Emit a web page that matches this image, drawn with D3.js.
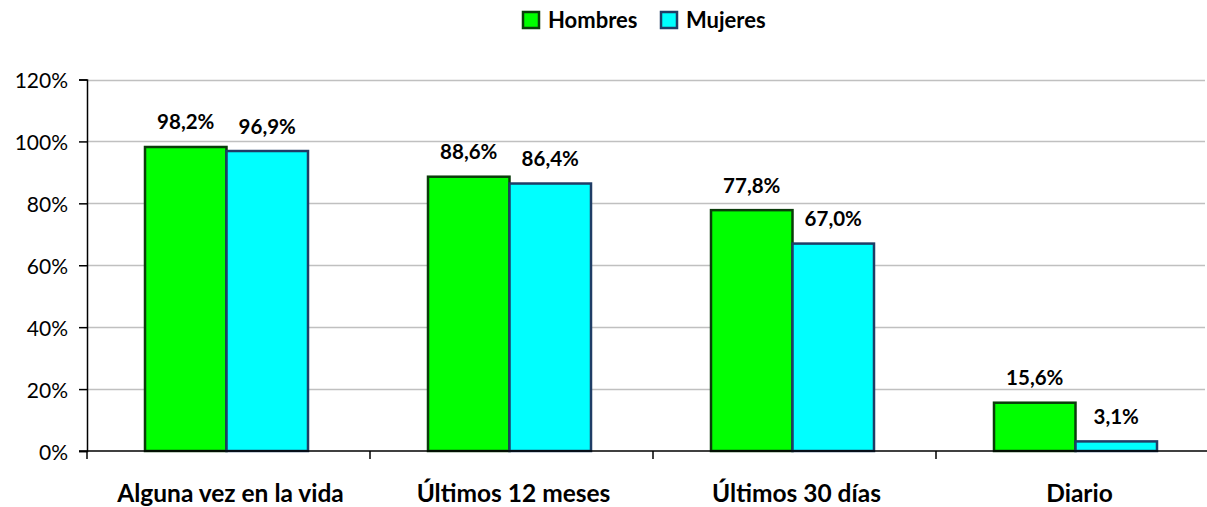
<!DOCTYPE html>
<html lang="es">
<head>
<meta charset="UTF-8">
<title>Consumo por sexo</title>
<script src="https://cdn.jsdelivr.net/npm/d3@7"></script>
<style>
  body { margin: 0; background: #fff; }
  text { font-family: Lato, "Open Sans", sans-serif; fill: #000; }
</style>
</head>
<body>
<script>
// datos
var categorias = ["Alguna vez en la vida", "Últimos 12 meses", "Últimos 30 días", "Diario"];
var series = ["Hombres", "Mujeres"];
var hombres = [98.2, 88.6, 77.8, 15.6];
var mujeres = [96.9, 86.4, 67.0, 3.1];
var ticksY = [0, 20, 40, 60, 80, 100, 120];

var colores = { Hombres: "#00ff00", Mujeres: "#00ffff" };
var bordes = { Hombres: "#0a3d0a", Mujeres: "#1f3d66" };

var width = 1207, height = 507;
var mLeft = 87, mTop = 79.5, mBottom = 451, bandW = 283;

var svg = d3.select("body").append("svg")
  .attr("width", width)
  .attr("height", height);

var x = d3.scaleBand()
  .domain(categorias)
  .range([mLeft, mLeft + bandW * categorias.length])
  .paddingInner(0)
  .paddingOuter(0);

var x1 = d3.scaleBand()
  .domain(series)
  .range([58, 58 + 163]);

var y = d3.scaleLinear().domain([0, 120]).range([mBottom, mTop]);

// lineas de cuadricula
svg.append("g").selectAll("line")
  .data(ticksY.filter(function(d){ return d > 0; }))
  .enter().append("line")
  .attr("x1", mLeft).attr("x2", 1205)
  .attr("y1", function(d){ return Math.round(y(d)) + 0.5; })
  .attr("y2", function(d){ return Math.round(y(d)) + 0.5; })
  .attr("stroke", "#c0c0c0")
  .attr("stroke-width", 1.3);

// eje y
var ejeY = svg.append("g")
  .attr("transform", "translate(" + mLeft + ",0)")
  .call(d3.axisLeft(y).tickValues(ticksY).tickSize(8).tickPadding(11)
    .tickFormat(function(d){ return d + "%"; }));
ejeY.select(".domain").attr("stroke", "#000").attr("stroke-width", 1.5);
ejeY.selectAll(".tick line").attr("stroke", "#000").attr("stroke-width", 1.5);
ejeY.selectAll(".tick text").style("font-size", "21px").attr("dy", "0.4em");

var datos = categorias.map(function(c, i){
  return { cat: c, vals: [
    { serie: "Hombres", v: hombres[i] },
    { serie: "Mujeres", v: mujeres[i] }
  ]};
});

var grupos = svg.append("g").selectAll("g")
  .data(datos)
  .enter().append("g")
  .attr("transform", function(d){ return "translate(" + x(d.cat) + ",0)"; });

grupos.selectAll("rect")
  .data(function(d){ return d.vals; })
  .enter().append("rect")
  .attr("x", function(d){ return x1(d.serie); })
  .attr("y", function(d){ return y(d.v); })
  .attr("width", x1.bandwidth())
  .attr("height", function(d){ return mBottom - y(d.v); })
  .attr("fill", function(d){ return colores[d.serie]; })
  .attr("stroke", function(d){ return bordes[d.serie]; })
  .attr("stroke-width", 2.5);

grupos.selectAll("text")
  .data(function(d){ return d.vals; })
  .enter().append("text")
  .attr("x", function(d){ return x1(d.serie) + x1.bandwidth() / 2; })
  .attr("y", function(d){ return y(d.v) - 17.5; })
  .attr("text-anchor", "middle")
  .style("font-size", "20.5px")
  .style("font-weight", "bold")
  .text(function(d){ return d.v.toFixed(1).replace(".", ",") + "%"; });

// eje x
var ejeX = svg.append("g")
  .attr("transform", "translate(0," + mBottom + ")");
ejeX.append("line")
  .attr("x1", mLeft - 8).attr("x2", width)
  .attr("stroke", "#000").attr("stroke-width", 1.5);
ejeX.selectAll("line.tk")
  .data(categorias)
  .enter().append("line")
  .attr("class", "tk")
  .attr("x1", function(d){ return x(d); })
  .attr("x2", function(d){ return x(d); })
  .attr("y1", 0).attr("y2", 8)
  .attr("stroke", "#000").attr("stroke-width", 1.5);
ejeX.selectAll("text")
  .data(categorias)
  .enter().append("text")
  .attr("x", function(d){ return x(d) + x.bandwidth() / 2 + 2; })
  .attr("y", 51)
  .attr("text-anchor", "middle")
  .style("font-size", "24.5px")
  .style("font-weight", "bold")
  .text(function(d){ return d; });

// leyenda
var leyenda = svg.append("g");
var posLey = [{ s: "Hombres", x: 522 }, { s: "Mujeres", x: 660 }];
var items = leyenda.selectAll("g")
  .data(posLey)
  .enter().append("g")
  .attr("transform", function(d){ return "translate(" + d.x + ",11)"; });
items.append("rect")
  .attr("x", 1).attr("y", 1)
  .attr("width", 16).attr("height", 16)
  .attr("fill", function(d){ return colores[d.s]; })
  .attr("stroke", function(d){ return bordes[d.s]; })
  .attr("stroke-width", 2.5);
items.append("text")
  .attr("x", 26).attr("y", 17)
  .style("font-size", "22px")
  .style("font-weight", "bold")
  .text(function(d){ return d.s; });
</script>
</body>
</html>
